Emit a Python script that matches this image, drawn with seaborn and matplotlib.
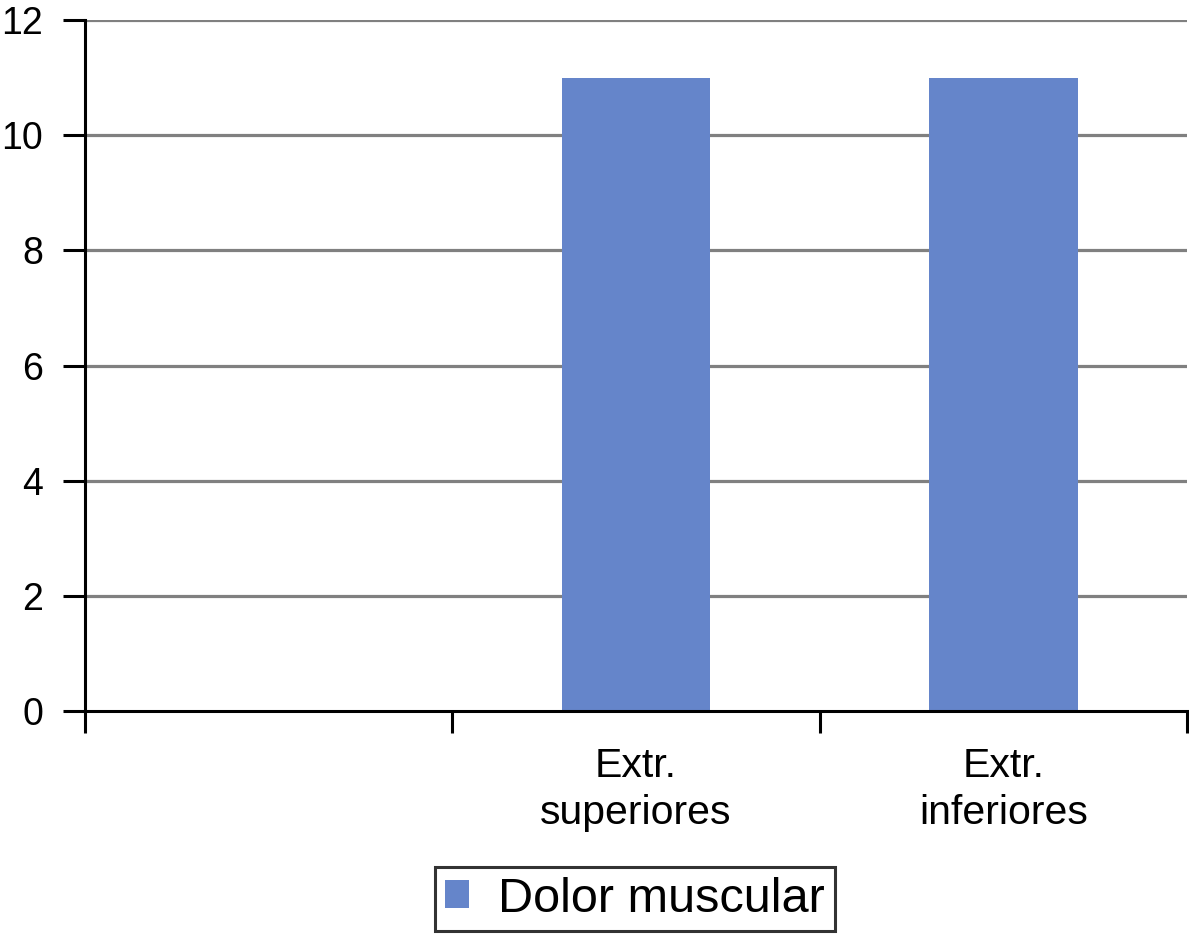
import numpy as np
import pandas as pd
import seaborn as sns
import matplotlib.pyplot as plt
from matplotlib.ticker import FixedLocator

# data
categories = ['', 'Extr.\nsuperiores', 'Extr.\ninferiores']
values = [0, 11, 11]
series = 'Dolor muscular'
yticks = [0, 2, 4, 6, 8, 10, 12]

df = pd.DataFrame({'cat': categories, 'val': values, 'serie': series})

sns.set_style('white')
plt.rcParams['font.family'] = ['Liberation Sans', 'DejaVu Sans']
plt.rcParams['text.color'] = 'black'
plt.rcParams['xtick.color'] = 'black'
plt.rcParams['ytick.color'] = 'black'

fig = plt.figure(figsize=(11.89, 9.35), dpi=100)
ax = fig.add_axes([85/1189, 224/935, 1102/1189, 691/935])

sns.barplot(data=df, x='cat', y='val', hue='serie', order=categories,
            palette=['#6585ca'], width=0.405, saturation=1, ax=ax,
            linewidth=0, legend=True)

ax.set_xlim(-0.5, 2.5)
ax.set_ylim(0, 12)
ax.set_yticks(yticks)
ax.set_xlabel('')
ax.set_ylabel('')

# gridlines
for y in yticks[1:]:
    ax.axhline(y, color='#808080', lw=2.3, zorder=0)

for s in ['top', 'right']:
    ax.spines[s].set_visible(False)
for s in ['left', 'bottom']:
    ax.spines[s].set_linewidth(2.2)
    ax.spines[s].set_color('black')

ax.tick_params(axis='y', left=True, length=16, width=2.2, direction='out', pad=14,
               labelsize=27, color='black', labelcolor='black')
ax.tick_params(axis='x', which='major', bottom=True, length=0, pad=26,
               labelsize=29.5, labelcolor='black')
ax.xaxis.set_minor_locator(FixedLocator([-0.5, 0.5, 1.5, 2.5]))
ax.tick_params(axis='x', which='minor', bottom=True, length=16, width=2.2,
               direction='out', color='black')
for t in ax.get_xticklabels():
    t.set_linespacing(1.3)

ax.get_legend().remove()
handles, labels = ax.get_legend_handles_labels()
leg = fig.legend(handles, labels, loc='center', bbox_to_anchor=(635/1189, 36/935),
                 fontsize=35, frameon=True, fancybox=False, edgecolor='black',
                 handlelength=0.5, handleheight=0.5, handletextpad=0.6,
                 borderpad=0.2, borderaxespad=0)
leg.get_frame().set_linewidth(2.2)
for t in leg.get_texts():
    t.set_color('black')

fig.savefig('out.png', dpi=100)
